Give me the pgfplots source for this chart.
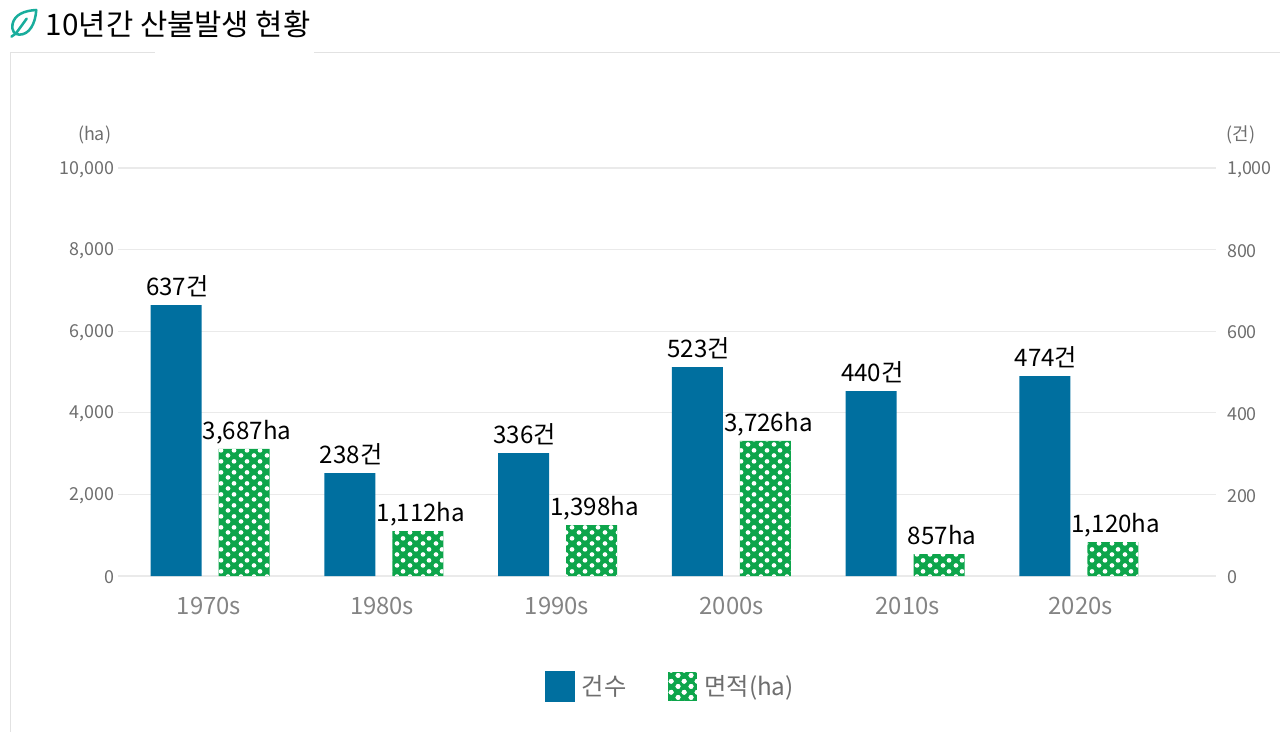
\documentclass[border=0pt]{standalone}
\usepackage{fontspec}
\usepackage{pgfplots}
\usepackage{pgfplotstable}
\pgfplotsset{compat=1.18}
\usetikzlibrary{patterns}
\setmainfont{Noto Sans CJK KR}
\definecolor{bluebar}{HTML}{006F9F}
\definecolor{greenbar}{HTML}{0DA54B}
\definecolor{tickgrey}{HTML}{6E6E6E}
\definecolor{gridgrey}{HTML}{EAEAEA}
\definecolor{framegrey}{HTML}{E2E2E2}
\definecolor{leaf}{HTML}{19AD9C}
\pgfdeclarepatternformonly{wdots}{\pgfqpoint{0pt}{0pt}}{\pgfqpoint{9.375pt}{8.25pt}}{\pgfqpoint{9.375pt}{8.25pt}}{%
  \pgfpathcircle{\pgfqpoint{2.34pt}{2.06pt}}{1.85pt}%
  \pgfpathcircle{\pgfqpoint{7.03pt}{6.19pt}}{1.85pt}%
  \pgfusepath{fill}}
\pgfplotstableread{
x count label
0 664 637건
1 252 238건
2 301 336건
3 512 523건
4 453 440건
5 490 474건
}\countdata
\pgfplotstableread{
x area label
0 3113 3,687ha
1 1103 1,112ha
2 1250 1,398ha
3 3309 3,726ha
4 539 857ha
5 833 1,120ha
}\areadata
\pgfplotsset{
  base/.style={
    scale only axis, width=823.5pt, height=306pt,
    at={(88.5pt,117pt)}, anchor=south west,
    xmin=-0.53, xmax=5.79, ymin=0,
    axis line style={draw=none},
    major tick length=0pt,
    clip=false,
    scaled y ticks=false,
    /pgf/number format/1000 sep={,},
    /pgf/number format/assume math mode=true,
    tick label style={font=\fontsize{13.4pt}{15pt}\selectfont, text=tickgrey},
  },
  barlabels/.style={
    nodes near coords,
    point meta=explicit symbolic,
    every node near coord/.append style={font=\fontsize{18.1pt}{20pt}\selectfont, text=black, inner sep=0pt, anchor=base, yshift=7.4pt, xshift=#1},
  },
}
\begin{document}
\begin{tikzpicture}[x=1pt,y=1pt]
\path[use as bounding box] (0,0) rectangle (960pt,549pt);
% frame
\draw[framegrey, line width=0.75pt] (7.5pt,0pt) -- (7.5pt,509.25pt) -- (116.25pt,509.25pt);
\draw[framegrey, line width=0.75pt] (235.5pt,509.25pt) -- (960pt,509.25pt);
% leaf icon
\begin{scope}[leaf, line width=1.9pt, line cap=round, line join=round]
\draw (27.2pt,541.5pt) .. controls (18pt,541pt) and (11pt,538pt) .. (9.4pt,531pt)
      .. controls (8.4pt,526pt) and (11pt,523pt) .. (14.5pt,523pt)
      .. controls (22pt,523pt) and (26.5pt,531pt) .. cycle;
\draw (8.6pt,521.5pt) -- (12pt,524pt) -- (20pt,535pt);
\end{scope}
\node[anchor=base west, inner sep=0pt, font=\fontsize{22.25pt}{26pt}\selectfont] at (34.2pt,522.4pt) {10년간 산불발생 현황};
% left scale, grid and categories
\begin{axis}[base,
  ymax=10000,
  ytick={0,2000,4000,6000,8000,10000},
  xtick={-0.006,0.99,1.997,3.003,4.016,5.011},
  xticklabels={1970s,1980s,1990s,2000s,2010s,2020s},
  xticklabel style={font=\fontsize{17.9pt}{20pt}\selectfont, text=tickgrey!85, yshift=-12pt},
  yticklabel style={yshift=-1pt, xshift=0.5pt},
  axis x line*=bottom, axis y line*=left,
  ymajorgrids, major grid style={gridgrey, line width=0.8pt},
]
\addplot[draw=none, forget plot] coordinates {(0,0)};
\end{axis}
% right scale: count
\begin{axis}[base,
  ymax=1000,
  ytick={0,200,400,600,800,1000},
  xtick=\empty,
  axis y line*=right, axis x line=none,
  yticklabel style={xshift=4.8pt, yshift=-1pt},
]
\addplot[ybar, bar width=38.25pt, bar shift=-25.5pt, draw=none, fill=bluebar, barlabels=-24.6pt]
  table[x=x, y=count, meta=label] {\countdata};
\end{axis}
% left scale: area
\begin{axis}[base,
  ymax=10000,
  hide axis,
  legend columns=2,
  legend style={at={(0.5032,-0.27)}, anchor=center, draw=none, fill=none,
    font=\fontsize{18.2pt}{20pt}\selectfont, text=tickgrey,
    /tikz/every odd column/.append style={column sep=3.5pt},
    /tikz/every even column/.append style={column sep=29pt}, inner sep=0pt},
]
\addlegendimage{legend image code/.code={\fill[bluebar] (0pt,-11pt) rectangle (22pt,11pt);}}
\addlegendentry{건수}
\addplot[ybar, bar width=38.25pt, bar shift=25.5pt, draw=none, fill=greenbar,
  postaction={pattern=wdots, pattern color=white}, barlabels=27.8pt,
  legend image code/.code={\fill[greenbar] (0pt,-11pt) rectangle (22pt,11pt);\fill[pattern=wdots, pattern color=white] (0pt,-11pt) rectangle (22pt,11pt);}]
  table[x=x, y=area, meta=label] {\areadata};
\addlegendentry{면적(ha)}
\end{axis}
\node[anchor=east, inner sep=0pt, text=tickgrey, font=\fontsize{13.4pt}{15pt}\selectfont] at (83.5pt,447.8pt) {(ha)};
\node[anchor=west, inner sep=0pt, text=tickgrey, font=\fontsize{13.4pt}{15pt}\selectfont] at (920pt,447.8pt) {(건)};
\end{tikzpicture}
\end{document}
